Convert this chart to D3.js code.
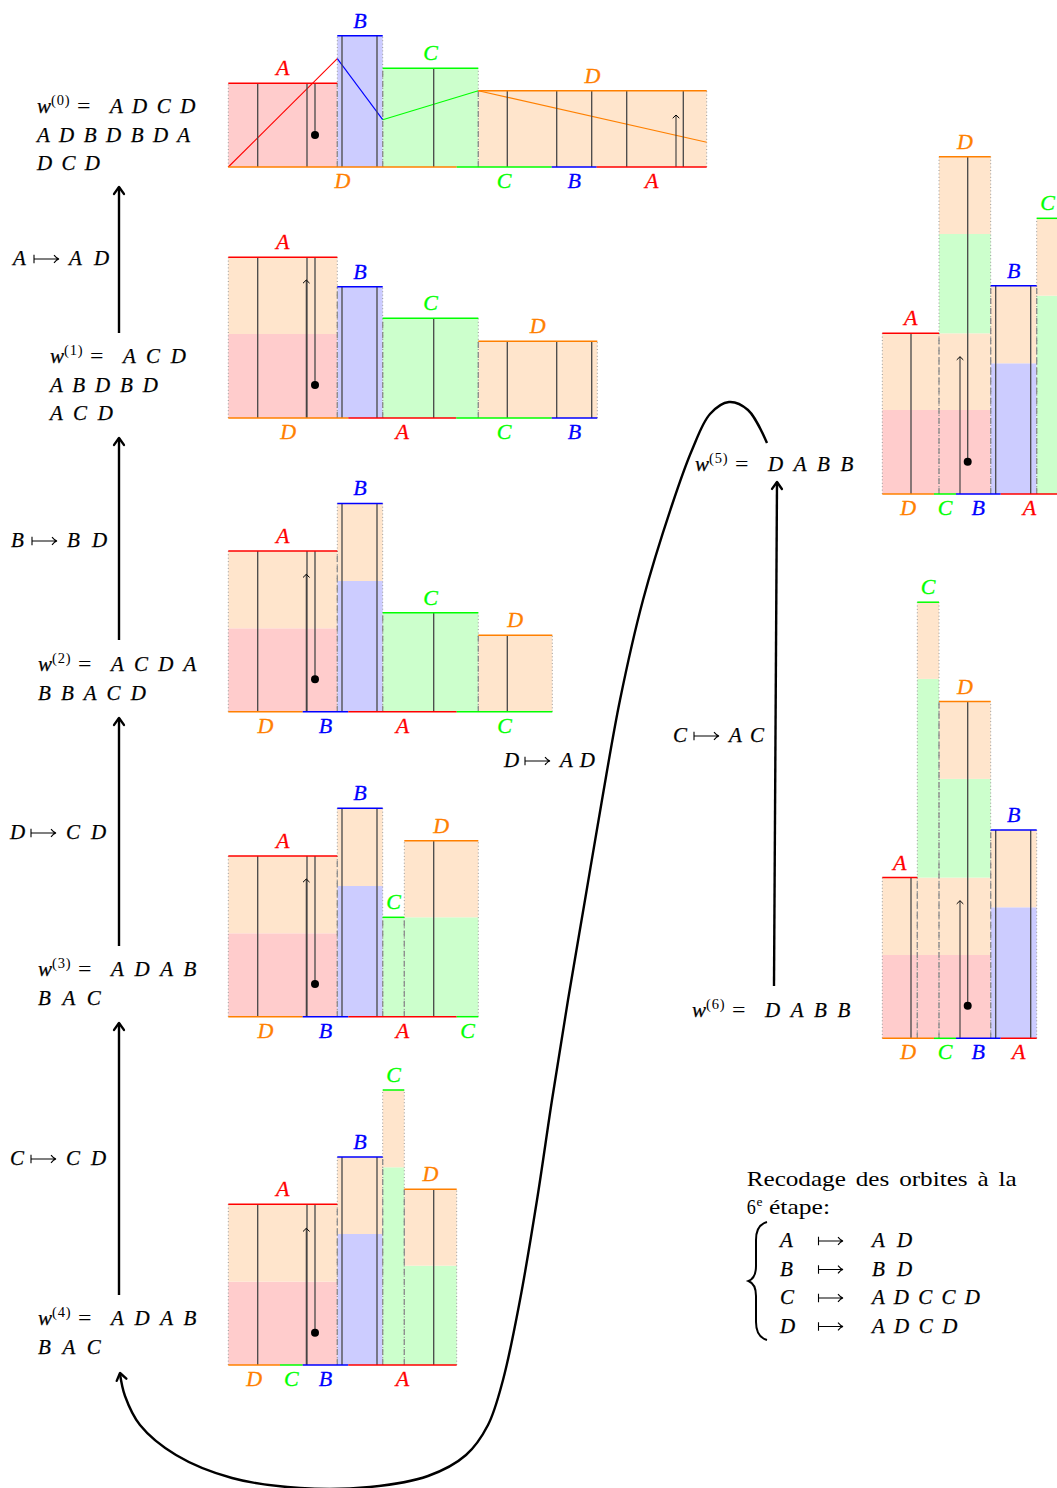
<!DOCTYPE html>
<html>
<head>
<meta charset="utf-8">
<script src="https://cdn.jsdelivr.net/npm/d3@7"></script>
<style>
body { margin: 0; background: #fff; }
svg { display: block; }
</style>
</head>
<body>
<svg id="fig" width="1057" height="1488"></svg>
<script>
// ---- data ----
let letters = ['A', 'B', 'C', 'D']
let strokeCol = ['#ff0000', '#0000ff', '#00ff00', '#ff8000']
let fillCol = ['#ffcccc', '#ccccff', '#ccffcc', '#ffe5cc']

// towers of each stage w0..w6, left to right along the top
let topLetters = [
    ['A', 'B', 'C', 'D'],
    ['A', 'B', 'C', 'D'],
    ['A', 'B', 'C', 'D'],
    ['A', 'B', 'C', 'D'],
    ['A', 'B', 'C', 'D'],
    ['A', 'D', 'B', 'C'],
    ['A', 'C', 'D', 'B']
]
let topWidths = [
    [109, 45.4, 95.6, 228.4],
    [109, 45.4, 95.6, 119],
    [109, 45.4, 95.6, 74],
    [109, 45.4, 21.6, 74],
    [109, 45.4, 21.6, 52.4],
    [56.7, 51.7, 46, 21.6],
    [35, 21.7, 51.7, 46]
]
// floors of each tower, bottom up
let floorLetters = [
    [['A'], ['B'], ['C'], ['D']],
    [['A', 'D'], ['B'], ['C'], ['D']],
    [['A', 'D'], ['B', 'D'], ['C'], ['D']],
    [['A', 'D'], ['B', 'D'], ['C'], ['C', 'D']],
    [['A', 'D'], ['B', 'D'], ['C', 'C', 'D'], ['C', 'D']],
    [['A', 'D'], ['A', 'D', 'C', 'D'], ['B', 'D'], ['C', 'C', 'D']],
    [['A', 'D'], ['A', 'D', 'C', 'C', 'D'], ['A', 'D', 'C', 'D'], ['B', 'D']]
]
let floorHeights = [
    [[83.7], [131.3], [98.7], [76.3]],
    [[84, 76.7], [131.3], [99.7], [76.7]],
    [[83.4, 77.3], [130.7, 77.6], [99], [76.4]],
    [[83.4, 77.3], [130.7, 77.7], [99.4], [99.4, 76.6]],
    [[83.3, 77.4], [131, 77], [98.8, 98.9, 77.3], [99.3, 76.4]],
    [[84, 76.7], [84, 76.7, 99.3, 77.3], [130.7, 77.6], [99.1, 99.2, 77.4]],
    [[83.3, 77.4], [83.3, 77.4, 99.4, 99.3, 76.7], [83.3, 77.4, 98.7, 77.3], [131, 77.3]]
]
// order and lengths along the bottom
let bottomLetters = [
    ['D', 'C', 'B', 'A'],
    ['D', 'A', 'C', 'B'],
    ['D', 'B', 'A', 'C'],
    ['D', 'B', 'A', 'C'],
    ['D', 'C', 'B', 'A'],
    ['D', 'C', 'B', 'A'],
    ['D', 'C', 'B', 'A']
]
let bottomWidths = [
    [228.4, 95, 45, 110],
    [120, 108, 95.4, 45.6],
    [74.4, 45.6, 108.4, 95.6],
    [74.4, 45.6, 108.4, 21.6],
    [51.7, 22.7, 45.6, 108.4],
    [51.7, 22, 44.7, 57.6],
    [51.7, 22, 44.7, 36]
]
// vertical cuts through the towers
let cutLines = [
    [29.4, 78.7, 113.7, 148.7, 205.4, 279, 328.4, 363.4, 398.4, 455],
    [29.4, 78.7, 113.7, 148.7, 205.4, 279, 328.4, 363.4],
    [29.4, 78.7, 113.7, 148.7, 205.4, 279],
    [29.4, 78.7, 113.7, 148.7, 205.4],
    [29.4, 78.7, 113.7, 148.7, 205.4],
    [28.7, 113.4, 148.4],
    [28.7, 113.4, 148.4]
]
let dotX = [86.7, 86.7, 86.7, 86.7, 86.7, 85.4, 85.4]
let dotY = [32, 33, 32.4, 32.7, 32.3, 32.3, 32.6]
let arrowX = [447.7, 78, 78, 78, 78, 77.7, 77.7]
let arrowTop = [52, 138, 137.4, 137.7, 136.7, 137.3, 137.6]
// zig-zag over the first stage
let suspY = [0, 108.3, 47.3, 76.3, 24.7]

// words and substitutions
let wWords = [
    ['A D C D', 'A D B D B D A', 'D C D'],
    ['A C D', 'A B D B D', 'A C D'],
    ['A C D A', 'B B A C D'],
    ['A D A B', 'B A C'],
    ['A D A B', 'B A C'],
    ['D A B B'],
    ['D A B B']
]
let ruleFrom = ['A', 'B', 'D', 'C', 'C', 'D']
let ruleTo = ['A D', 'B D', 'C D', 'C D', 'AC', 'AD']
let recodeFrom = ['A', 'B', 'C', 'D']
let recodeTo = ['A D', 'B D', 'A D C C D', 'A D C D']

// ---- layout ----
let serif = "'Liberation Serif', 'Tinos', 'Times New Roman', 'DejaVu Serif', 'Noto Serif', serif"
let panelX = [228.3, 228.3, 228.3, 228.3, 228.3, 882.3, 882.3]
let panelBase = [167, 418, 711.7, 1016.7, 1365, 494, 1038.3]
let wPos = [[37, 113], [50, 363], [38, 671], [38, 976], [38, 1325], [695, 471], [692, 1017]]
let rulePos = [[13, 265], [11, 547], [10, 839], [10, 1165], [673, 742], [504, 767]]
let stepArrows = [[119, 333, 119, 187], [119, 640, 119, 438], [119, 946, 119, 718], [119, 1295, 119, 1023], [774, 986, 777, 482]]
let loopPts = [[767, 443], [748, 410], [729, 402], [710, 414], [692, 450], [672, 505], [643, 600],
    [620, 700], [602, 800], [585, 900], [568, 1000], [552, 1100], [537, 1200], [520, 1300],
    [503, 1380], [488, 1425], [466, 1455], [428, 1476], [370, 1487], [300, 1488], [232, 1478],
    [176, 1455], [140, 1425], [125, 1396], [120, 1374]]

let svg = d3.select('#fig').attr('font-family', serif)
let colorOf = d3.scaleOrdinal().domain(letters).range(strokeCol)
let fillOf = d3.scaleOrdinal().domain(letters).range(fillCol)

let chevron = (g, tx, ty, ang, len, spread, w) => {
    let p = d3.path()
    p.moveTo(tx - len * Math.cos(ang - spread), ty - len * Math.sin(ang - spread))
    p.lineTo(tx, ty)
    p.lineTo(tx - len * Math.cos(ang + spread), ty - len * Math.sin(ang + spread))
    g.append('path').attr('d', p.toString()).attr('fill', 'none')
        .attr('stroke', '#000').attr('stroke-width', w).attr('stroke-linecap', 'round').attr('stroke-linejoin', 'round')
}

let drawStage = (k) => {
    let total = d3.sum(topWidths[k])
    let x = d3.scaleLinear().domain([0, total]).range([panelX[k], panelX[k] + total])
    let y = d3.scaleLinear().domain([0, 500]).range([panelBase[k], panelBase[k] - 500])
    let g = svg.append('g').attr('class', 'stage')

    let bars = topLetters[k].map((l, i) => {
        let left = d3.sum(topWidths[k].slice(0, i))
        return {
            letter: l, left: left, right: left + topWidths[k][i],
            h: d3.sum(floorHeights[k][i]), floors: floorHeights[k][i], fl: floorLetters[k][i]
        }
    })
    let barAt = (v) => bars.find(b => v >= b.left && v <= b.right)

    // floors, same-colour neighbours merged
    bars.forEach(b => {
        let acc = 0
        let runs = []
        b.floors.forEach((fh, j) => {
            let last = runs[runs.length - 1]
            if (last && last.l === b.fl[j]) last.top += fh
            else runs.push({l: b.fl[j], bot: acc, top: acc + fh})
            acc += fh
        })
        g.selectAll(null).data(runs).enter().append('rect')
            .attr('x', x(b.left)).attr('width', x(b.right) - x(b.left))
            .attr('y', d => y(d.top)).attr('height', d => y(d.bot) - y(d.top))
            .attr('fill', d => fillOf(d.l))
    })

    // dotted sides
    bars.forEach(b => {
        [b.left, b.right].forEach(v => {
            g.append('line').attr('x1', x(v)).attr('x2', x(v)).attr('y1', y(0)).attr('y2', y(b.h))
                .attr('stroke', '#9a9a9a').attr('stroke-width', 1).attr('stroke-dasharray', '1,2.4')
        })
    })
    // dashed separations
    bars.slice(1).forEach((b, i) => {
        let hm = Math.min(b.h, bars[i].h)
        g.append('line').attr('x1', x(b.left)).attr('x2', x(b.left)).attr('y1', y(0)).attr('y2', y(hm))
            .attr('stroke', '#8c8c8c').attr('stroke-width', 1.3).attr('stroke-dasharray', '6,4')
    })

    if (k === 0) {
        let edges = [0].concat(bars.map(b => b.right))
        bars.forEach((b, i) => {
            g.append('line').attr('x1', x(edges[i])).attr('y1', y(suspY[i]))
                .attr('x2', x(edges[i + 1])).attr('y2', y(suspY[i + 1]))
                .attr('stroke', colorOf(b.letter)).attr('stroke-width', 1.1)
        })
    }

    // cuts
    cutLines[k].forEach(v => {
        let b = barAt(v)
        g.append('line').attr('x1', x(v)).attr('x2', x(v)).attr('y1', y(0)).attr('y2', y(b.h))
            .attr('stroke', '#474747').attr('stroke-width', 1.3)
    })
    // line ending on a dot
    let bd = barAt(dotX[k])
    g.append('line').attr('x1', x(dotX[k])).attr('x2', x(dotX[k])).attr('y1', y(bd.h)).attr('y2', y(dotY[k]))
        .attr('stroke', '#474747').attr('stroke-width', 1.3)
    g.append('circle').attr('cx', x(dotX[k])).attr('cy', y(dotY[k])).attr('r', 4).attr('fill', '#000')
    // small arrow
    g.append('line').attr('x1', x(arrowX[k])).attr('x2', x(arrowX[k])).attr('y1', y(0)).attr('y2', y(arrowTop[k]))
        .attr('stroke', '#3a3a3a').attr('stroke-width', 1.1)
    chevron(g, x(arrowX[k]), y(arrowTop[k]), -Math.PI / 2, 4.2, 0.8, 1)

    // top edges and labels
    bars.forEach(b => {
        g.append('line').attr('x1', x(b.left)).attr('x2', x(b.right)).attr('y1', y(b.h)).attr('y2', y(b.h))
            .attr('stroke', colorOf(b.letter)).attr('stroke-width', 1.5)
        g.append('text').attr('x', x((b.left + b.right) / 2)).attr('y', y(b.h) - 8)
            .attr('text-anchor', 'middle').attr('font-style', 'italic').attr('font-size', 22)
            .attr('fill', colorOf(b.letter)).attr('stroke', colorOf(b.letter)).attr('stroke-width', 0.3)
            .text(b.letter)
    })
    // bottom edges and labels
    bottomLetters[k].forEach((l, i) => {
        let left = d3.sum(bottomWidths[k].slice(0, i))
        let right = left + bottomWidths[k][i]
        g.append('line').attr('x1', x(left)).attr('x2', x(right)).attr('y1', y(0)).attr('y2', y(0))
            .attr('stroke', colorOf(l)).attr('stroke-width', 1.5)
        g.append('text').attr('x', x((left + right) / 2)).attr('y', y(0) + 21)
            .attr('text-anchor', 'middle').attr('font-style', 'italic').attr('font-size', 22)
            .attr('fill', colorOf(l)).attr('stroke', colorOf(l)).attr('stroke-width', 0.3)
            .text(l)
    })
}

let seqLen = (s) => {
    let n = s.replace(/ /g, '').length
    return s.indexOf(' ') < 0 ? n * 18 - 1 : n * 22.6 - 5
}
let italic = (g, x, yb, s, fit) => {
    let t = g.append('text').attr('x', x).attr('y', yb).attr('font-style', 'italic').attr('font-size', 21)
        .attr('stroke', '#000').attr('stroke-width', 0.25).text(s)
    if (fit && s.length > 1) t.attr('textLength', seqLen(s)).attr('lengthAdjust', 'spacing')
    return t
}
let mapsto = (g, x, yb, w) => {
    let a = yb - 6
    let p = d3.path()
    p.moveTo(x, a - 4.2); p.lineTo(x, a + 4.2)
    p.moveTo(x, a); p.lineTo(x + w, a)
    p.moveTo(x + w - 5, a - 3.8); p.quadraticCurveTo(x + w - 2.5, a - 0.6, x + w, a)
    p.quadraticCurveTo(x + w - 2.5, a + 0.6, x + w - 5, a + 3.8)
    g.append('path').attr('d', p.toString()).attr('fill', 'none').attr('stroke', '#000').attr('stroke-width', 1.1)
}

let drawWord = (k) => {
    let [x, yb] = wPos[k]
    let g = svg.append('g').attr('class', 'word')
    g.append('text').attr('x', x).attr('y', yb).attr('font-style', 'italic').attr('font-size', 21)
        .attr('stroke', '#000').attr('stroke-width', 0.25).text('w')
    g.append('text').attr('x', x + 14).attr('y', yb - 8).attr('font-size', 14.5)
        .attr('textLength', 18.5).attr('lengthAdjust', 'spacing').text('(' + k + ')')
    g.append('text').attr('x', x + 40).attr('y', yb).attr('font-size', 20)
        .attr('textLength', 13.5).attr('lengthAdjust', 'spacingAndGlyphs').text('=')
    wWords[k].forEach((s, i) => {
        italic(g, i === 0 ? x + 73 : x, yb + i * 28.5, s, true)
    })
}

let drawRule = (k) => {
    let [x, yb] = rulePos[k]
    let g = svg.append('g').attr('class', 'rule')
    italic(g, x, yb, ruleFrom[k], false)
    mapsto(g, x + 21, yb, 25)
    italic(g, x + 56, yb, ruleTo[k], true)
}

d3.range(7).forEach(drawStage)
d3.range(7).forEach(drawWord)
d3.range(6).forEach(drawRule)

// arrows between the words
stepArrows.forEach(a => {
    svg.append('line').attr('x1', a[0]).attr('y1', a[1]).attr('x2', a[2]).attr('y2', a[3])
        .attr('stroke', '#000').attr('stroke-width', 2.4)
    chevron(svg, a[2], a[3], Math.atan2(a[3] - a[1], a[2] - a[0]), 8.5, 0.62, 2.4)
})
// long loop from w5 back to w4
let loop = d3.line().curve(d3.curveCatmullRom.alpha(0.5))
svg.append('path').attr('d', loop(loopPts)).attr('fill', 'none').attr('stroke', '#000').attr('stroke-width', 2.4)
let pn = loopPts[loopPts.length - 1], pm = loopPts[loopPts.length - 2]
chevron(svg, pn[0], pn[1] - 1, Math.atan2(pn[1] - pm[1], pn[0] - pm[0]), 8.5, 0.62, 2.4)

// recoding legend (roman text stretched a little, like the wider TeX font)
let lg = svg.append('g').attr('class', 'legend')
lg.append('text').attr('x', 746.7).attr('y', 1186).attr('font-size', 21).attr('word-spacing', 3)
    .attr('textLength', 270).attr('lengthAdjust', 'spacingAndGlyphs').text('Recodage des orbites à la')
lg.append('text').attr('x', 746.7).attr('y', 1214).attr('font-size', 21)
    .attr('textLength', 9).attr('lengthAdjust', 'spacingAndGlyphs').text('6')
lg.append('text').attr('x', 756.5).attr('y', 1206).attr('font-size', 13.5).text('e')
lg.append('text').attr('x', 769).attr('y', 1214).attr('font-size', 21)
    .attr('textLength', 61).attr('lengthAdjust', 'spacingAndGlyphs').text('étape:')
let br = d3.path()
br.moveTo(767, 1222)
br.quadraticCurveTo(756, 1225, 756, 1240)
br.lineTo(756, 1266)
br.quadraticCurveTo(756, 1278, 748.5, 1281)
br.quadraticCurveTo(756, 1284, 756, 1296)
br.lineTo(756, 1322)
br.quadraticCurveTo(756, 1337, 767, 1340)
lg.append('path').attr('d', br.toString()).attr('fill', 'none').attr('stroke', '#000').attr('stroke-width', 2)
recodeFrom.forEach((l, i) => {
    let yb = 1247 + i * 28.5
    italic(lg, 780, yb, l, false)
    mapsto(lg, 818.5, yb, 24.5)
    italic(lg, 872, yb, recodeTo[i], true)
})
</script>
</body>
</html>
